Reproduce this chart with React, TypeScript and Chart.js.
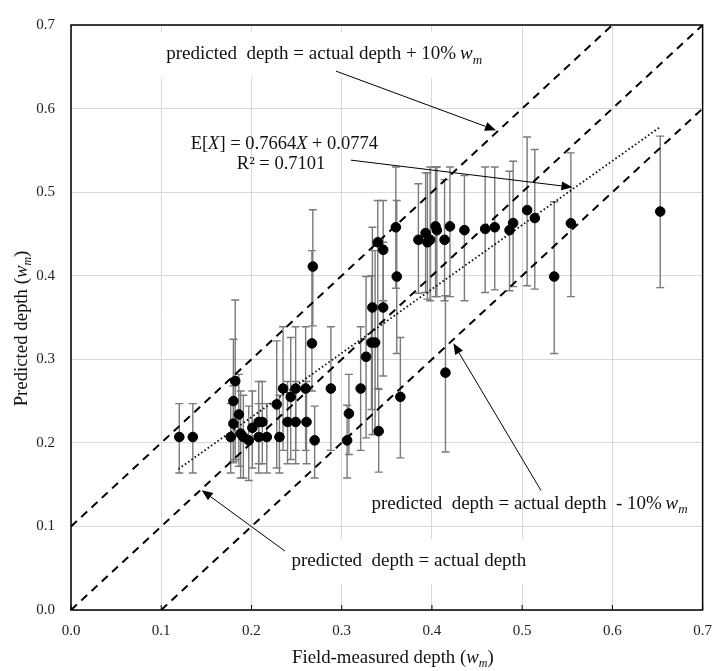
import React, { useEffect, useRef } from 'react';
import { Chart, registerables } from 'chart.js';

Chart.register(...registerables);

// ---------- data ----------
const measuredX = [
  0.120, 0.135, 0.177, 0.180, 0.180, 0.182, 0.186, 0.188, 0.191, 0.197,
  0.201, 0.208, 0.212, 0.208, 0.217, 0.228, 0.231, 0.235, 0.240, 0.2435,
  0.249, 0.249, 0.260, 0.261, 0.267, 0.268, 0.270, 0.288, 0.306, 0.308,
  0.321, 0.327, 0.334, 0.333, 0.337, 0.340, 0.341, 0.346, 0.346, 0.360,
  0.361, 0.365, 0.385, 0.393, 0.395, 0.398, 0.404, 0.4055, 0.414, 0.415,
  0.420, 0.436, 0.459, 0.4696, 0.486, 0.490, 0.5055, 0.514, 0.5355, 0.554,
  0.653,
];
const predictedY = [
  0.207, 0.207, 0.207, 0.223, 0.250, 0.274, 0.234, 0.211, 0.207, 0.203,
  0.218, 0.225, 0.225, 0.207, 0.207, 0.246, 0.207, 0.265, 0.225, 0.255,
  0.265, 0.225, 0.265, 0.225, 0.319, 0.411, 0.203, 0.265, 0.203, 0.235,
  0.265, 0.303, 0.362, 0.320, 0.320, 0.440, 0.214, 0.362, 0.431, 0.458,
  0.399, 0.255, 0.443, 0.451, 0.440, 0.443, 0.459, 0.4545, 0.443, 0.284,
  0.459, 0.4545, 0.456, 0.458, 0.4545, 0.463, 0.4785, 0.469, 0.399, 0.4627,
  0.4768,
];
const errHigh = [
  0.247, 0.247, 0.247, 0.268, 0.324, 0.371, 0.282, 0.262, 0.257, 0.244,
  0.262, 0.2735, 0.2735, 0.247, 0.247, 0.322, 0.257, 0.339, 0.2735, 0.326,
  0.339, 0.2735, 0.339, 0.2735, 0.430, 0.479, 0.244, 0.339, 0.245, 0.282,
  0.339, 0.399, 0.458, 0.400, 0.430, 0.490, 0.264, 0.440, 0.490, 0.530,
  0.490, 0.326, 0.510, 0.523, 0.523, 0.530, 0.530, 0.530, 0.515, 0.376,
  0.530, 0.520, 0.530, 0.530, 0.525, 0.537, 0.566, 0.551, 0.4885, 0.547,
  0.567,
];
const errLow = [
  0.164, 0.164, 0.164, 0.178, 0.176, 0.180, 0.172, 0.158, 0.158, 0.155,
  0.170, 0.175, 0.175, 0.164, 0.164, 0.170, 0.164, 0.191, 0.175, 0.180,
  0.191, 0.175, 0.191, 0.175, 0.262, 0.340, 0.158, 0.191, 0.158, 0.186,
  0.191, 0.206, 0.210, 0.240, 0.210, 0.265, 0.165, 0.280, 0.370, 0.385,
  0.307, 0.182, 0.379, 0.380, 0.372, 0.370, 0.375, 0.375, 0.370, 0.189,
  0.375, 0.370, 0.380, 0.383, 0.382, 0.387, 0.388, 0.384, 0.307, 0.375,
  0.3857,
];

// reference lines (endpoints)
const lineEqualX = [0.0, 0.7];
const lineEqualY = [0.0, 0.7];
const linePlusX = [0.0, 0.6];
const linePlusY = [0.1, 0.7];
const lineMinusX = [0.1, 0.7];
const lineMinusY = [0.0, 0.6];
const regressionX = [0.119, 0.653];
const regressionY = [0.1686, 0.578];

const tickValues = [0, 0.1, 0.2, 0.3, 0.4, 0.5, 0.6, 0.7];

// ---------- text / layout config ----------
const FAM = '"Liberation Serif", "Times New Roman", Times, serif';
type Seg = { t: string; it?: boolean; sub?: boolean };

const annotations: { segs: Seg[]; x: number; y: number; box?: boolean; size: number }[] = [
  {
    segs: [{ t: 'predicted  depth = actual depth + 10%\u2009' }, { t: 'w', it: true }, { t: 'm', it: true, sub: true }],
    x: 0.1055, y: 0.6648, box: true, size: 19,
  },
  {
    segs: [{ t: 'E[' }, { t: 'X', it: true }, { t: '] = 0.7664' }, { t: 'X', it: true }, { t: ' + 0.0774' }],
    x: 0.1326, y: 0.5571, size: 18.5,
  },
  { segs: [{ t: 'R\u00B2 = 0.7101' }], x: 0.1838, y: 0.5336, size: 18.5 },
  {
    segs: [{ t: 'predicted  depth = actual depth  - 10%\u2009' }, { t: 'w', it: true }, { t: 'm', it: true, sub: true }],
    x: 0.333, y: 0.1272, size: 19,
  },
  { segs: [{ t: 'predicted  depth = actual depth' }], x: 0.2443, y: 0.0587, box: true, size: 19 },
];

const arrows = [
  { from: [0.2937, 0.6448], to: [0.471, 0.574] },
  { from: [0.3102, 0.5383], to: [0.5557, 0.5059] },
  { from: [0.5209, 0.1429], to: [0.4238, 0.3191] },
  { from: [0.2371, 0.0705], to: [0.1449, 0.1434] },
];

function segFont(s: Seg, size: number) {
  const sz = s.sub ? Math.round(size * 0.66) : size;
  return `${s.it ? 'italic ' : ''}${sz}px ${FAM}`;
}

function measureRich(ctx: CanvasRenderingContext2D, segs: Seg[], size: number) {
  let w = 0;
  for (const s of segs) {
    ctx.font = segFont(s, size);
    w += ctx.measureText(s.t).width;
  }
  return w;
}

function drawRich(ctx: CanvasRenderingContext2D, segs: Seg[], x: number, y: number, size: number, align: 'left' | 'center' = 'left') {
  const w = measureRich(ctx, segs, size);
  let cx = align === 'center' ? x - w / 2 : x;
  ctx.textAlign = 'left';
  ctx.textBaseline = 'middle';
  for (const s of segs) {
    ctx.font = segFont(s, size);
    ctx.fillText(s.t, cx, s.sub ? y + size * 0.3 : y);
    cx += ctx.measureText(s.t).width;
  }
  return w;
}

const overlayPlugin = {
  id: 'overlay',
  beforeDatasetsDraw(chart: any) {
    const { ctx } = chart;
    const xs = chart.scales.x;
    const ys = chart.scales.y;
    ctx.save();
    // white label boxes that hide gridlines
    ctx.fillStyle = '#ffffff';
    for (const a of annotations) {
      if (!a.box) continue;
      const w = measureRich(ctx, a.segs, a.size);
      const px = xs.getPixelForValue(a.x);
      const py = ys.getPixelForValue(a.y);
      ctx.fillRect(px - 8, py - 22, w + 16, 45);
    }
    // error bars
    ctx.strokeStyle = '#7a7a7a';
    ctx.lineWidth = 1.4;
    for (let i = 0; i < measuredX.length; i++) {
      const px = xs.getPixelForValue(measuredX[i]);
      const ph = ys.getPixelForValue(errHigh[i]);
      const pl = ys.getPixelForValue(errLow[i]);
      ctx.beginPath();
      ctx.moveTo(px, ph);
      ctx.lineTo(px, pl);
      ctx.moveTo(px - 4, ph);
      ctx.lineTo(px + 4, ph);
      ctx.moveTo(px - 4, pl);
      ctx.lineTo(px + 4, pl);
      ctx.stroke();
    }
    ctx.restore();
  },
  afterDraw(chart: any) {
    const { ctx, chartArea } = chart;
    const xs = chart.scales.x;
    const ys = chart.scales.y;
    ctx.save();
    // frame
    ctx.strokeStyle = '#000';
    ctx.lineWidth = 1.5;
    ctx.strokeRect(chartArea.left, chartArea.top, chartArea.right - chartArea.left, chartArea.bottom - chartArea.top);
    // inward ticks on x axis
    ctx.lineWidth = 1;
    ctx.beginPath();
    for (const v of tickValues) {
      const px = xs.getPixelForValue(v);
      ctx.moveTo(px, chartArea.bottom);
      ctx.lineTo(px, chartArea.bottom - 5);
    }
    ctx.stroke();
    // arrows
    ctx.strokeStyle = '#000';
    ctx.fillStyle = '#000';
    ctx.lineWidth = 1;
    for (const a of arrows) {
      const x1 = xs.getPixelForValue(a.from[0]);
      const y1 = ys.getPixelForValue(a.from[1]);
      const x2 = xs.getPixelForValue(a.to[0]);
      const y2 = ys.getPixelForValue(a.to[1]);
      const ang = Math.atan2(y2 - y1, x2 - x1);
      const L = 11;
      const H = 4.5;
      const bx = x2 - L * Math.cos(ang);
      const by = y2 - L * Math.sin(ang);
      ctx.beginPath();
      ctx.moveTo(x1, y1);
      ctx.lineTo(bx, by);
      ctx.stroke();
      ctx.beginPath();
      ctx.moveTo(x2, y2);
      ctx.lineTo(bx + H * Math.sin(ang), by - H * Math.cos(ang));
      ctx.lineTo(bx - H * Math.sin(ang), by + H * Math.cos(ang));
      ctx.closePath();
      ctx.fill();
    }
    // annotation texts
    ctx.fillStyle = '#111';
    for (const a of annotations) {
      drawRich(ctx, a.segs, xs.getPixelForValue(a.x), ys.getPixelForValue(a.y), a.size);
    }
    // axis titles
    const xTitle: Seg[] = [{ t: 'Field-measured depth (' }, { t: 'w', it: true }, { t: 'm', it: true, sub: true }, { t: ')' }];
    drawRich(ctx, xTitle, (chartArea.left + chartArea.right) / 2 + 6, 658, 18.8, 'center');
    const yTitle: Seg[] = [{ t: 'Predicted depth (' }, { t: 'w', it: true }, { t: 'm', it: true, sub: true }, { t: ')' }];
    ctx.translate(22, (chartArea.top + chartArea.bottom) / 2 + 11);
    ctx.rotate(-Math.PI / 2);
    drawRich(ctx, yTitle, 0, 0, 18.8, 'center');
    ctx.restore();
  },
};

export default function App() {
  const ref = useRef<HTMLCanvasElement | null>(null);
  useEffect(() => {
    if (!ref.current) return;
    const points = measuredX.map((x, i) => ({ x, y: predictedY[i] }));
    const mk = (xs: number[], ys: number[]) => xs.map((x, i) => ({ x, y: ys[i] }));
    const tickFont = { family: FAM, size: 15 };
    const chart = new Chart(ref.current, {
      type: 'scatter',
      data: {
        datasets: [
          {
            label: 'points',
            data: points,
            backgroundColor: '#000',
            borderColor: '#000',
            pointRadius: 4.8,
            pointHoverRadius: 4.8,
          },
          {
            label: 'regression',
            type: 'line',
            data: mk(regressionX, regressionY),
            borderColor: '#111',
            borderWidth: 1.8,
            borderDash: [1.6, 2.4],
            pointRadius: 0,
            fill: false,
          },
          {
            label: 'equal',
            type: 'line',
            data: mk(lineEqualX, lineEqualY),
            borderColor: '#000',
            borderWidth: 2,
            borderDash: [8, 6],
            pointRadius: 0,
            fill: false,
          },
          {
            label: 'plus',
            type: 'line',
            data: mk(linePlusX, linePlusY),
            borderColor: '#000',
            borderWidth: 2,
            borderDash: [8, 6],
            pointRadius: 0,
            fill: false,
          },
          {
            label: 'minus',
            type: 'line',
            data: mk(lineMinusX, lineMinusY),
            borderColor: '#000',
            borderWidth: 2,
            borderDash: [8, 6],
            pointRadius: 0,
            fill: false,
          },
        ] as any,
      },
      options: {
        responsive: false,
        animation: false,
        devicePixelRatio: 1,
        layout: { padding: { top: 14, right: 16, left: 0, bottom: 0 } },
        plugins: { legend: { display: false }, tooltip: { enabled: false } },
        scales: {
          x: {
            type: 'linear',
            min: 0,
            max: 0.7,
            afterBuildTicks: (s: any) => { s.ticks = tickValues.map((v) => ({ value: v })); },
            afterFit: (s: any) => { s.height = 61; },
            grid: { color: '#d9d9d9', lineWidth: 1, drawTicks: false },
            border: { display: false },
            ticks: {
              font: tickFont,
              color: '#222',
              padding: 12,
              maxRotation: 0,
              callback: (v: any) => Number(v).toFixed(1),
            },
          },
          y: {
            type: 'linear',
            min: 0,
            max: 0.7,
            afterBuildTicks: (s: any) => { s.ticks = tickValues.map((v) => ({ value: v })); },
            afterFit: (s: any) => { s.width = 71; },
            grid: { color: '#d9d9d9', lineWidth: 1, drawTicks: false },
            border: { display: false },
            ticks: {
              font: tickFont,
              color: '#222',
              padding: 16,
              callback: (v: any) => Number(v).toFixed(1),
            },
          },
        },
      },
      plugins: [overlayPlugin],
    } as any);
    return () => chart.destroy();
  }, []);
  return (
    <div style={{ position: 'fixed', left: 0, top: 0, width: 724, height: 671, background: '#fff' }}>
      <canvas ref={ref} width={724} height={671} style={{ display: 'block', width: 724, height: 671 }} />
    </div>
  );
}
